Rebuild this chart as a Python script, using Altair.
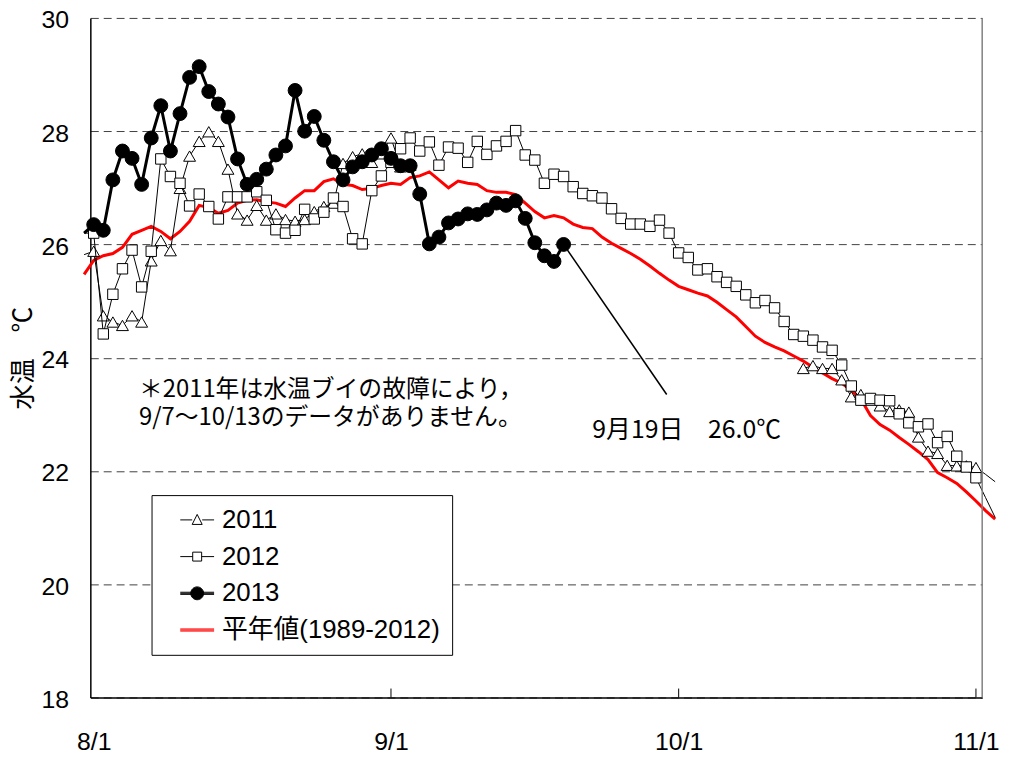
import altair as alt
import pandas as pd

# ---------------- data ----------------
NAMES = ["2011", "2012", "2013", "平年値(1989-2012)"]

# day index: 0 = 8/1
t2011a_start = -1
t2011a = [25.82, 25.88, 24.74, 24.63, 24.57, 24.74, 24.63, 25.71, 26.07, 25.89,
          26.99, 27.56, 27.82, 27.99, 27.82, 27.33, 26.54, 26.43, 26.69, 26.43,
          26.54, 26.44, 26.41, 26.44, 26.58, 26.67, 26.73, 27.43, 27.55, 27.60,
          27.45, 27.60, 27.88, 27.37, 27.40]
t2011b_start = 74
t2011b = [23.81, 23.86, 23.81, 23.81, 23.61, 23.31, 23.35, 23.25, 23.15, 23.05,
          23.08, 23.04, 22.60, 22.35, 22.31, 22.10, 22.09, 22.09, 22.06, 21.94, 21.81]

t2012_start = -1
t2012 = [26.20, 26.20, 24.42, 25.12, 25.57, 25.90, 25.25, 25.88, 27.51, 27.20,
         27.08, 26.68, 26.89, 26.67, 26.45, 26.84, 26.84, 26.84, 26.93, 26.78,
         26.26, 26.20, 26.25, 26.62, 26.45, 26.57, 26.82, 26.67, 26.10, 26.01,
         26.95, 27.21, 27.45, 27.69, 27.88, 27.65, 27.81, 27.40, 27.72, 27.70,
         27.45, 27.82, 27.59, 27.74, 27.82, 28.01, 27.58, 27.49, 27.08, 27.24,
         27.20, 27.02, 26.90, 26.86, 26.82, 26.63, 26.46, 26.36, 26.36, 26.32,
         26.43, 26.20, 25.85, 25.77, 25.55, 25.57, 25.43, 25.33, 25.26, 25.11,
         24.97, 25.01, 24.88, 24.64, 24.41, 24.38, 24.31, 24.19, 24.13, 23.87,
         23.50, 23.25, 23.28, 23.25, 23.24, 23.01, 22.85, 22.78, 22.83, 22.50,
         22.61, 22.26, 22.07, 21.88, 21.53, 21.18]

t2013_start = -1
t2013 = [26.20, 26.35, 26.25, 27.14, 27.65, 27.52, 27.06, 27.88, 28.45, 27.65,
         28.31, 28.95, 29.14, 28.70, 28.48, 28.25, 27.51, 27.06, 27.15, 27.33,
         27.58, 27.74, 28.72, 28.00, 28.26, 27.84, 27.46, 27.14, 27.37, 27.46,
         27.58, 27.69, 27.52, 27.39, 27.39, 26.89, 26.01, 26.13, 26.38, 26.45,
         26.54, 26.53, 26.61, 26.73, 26.69, 26.77, 26.46, 26.03, 25.80, 25.70, 26.00]

normal_start = -1
normal = [25.47, 25.72, 25.80, 25.84, 25.95, 26.18, 26.25, 26.32, 26.23, 26.10,
          26.23, 26.41, 26.69, 26.65, 26.55, 26.60, 26.73, 26.78, 26.79, 26.75,
          26.73, 26.67, 26.82, 26.95, 26.95, 27.11, 27.16, 27.06, 27.04, 26.97,
          26.99, 27.04, 27.08, 27.06, 27.18, 27.21, 27.28, 27.14, 27.00, 27.12,
          27.08, 27.06, 26.95, 26.92, 26.92, 26.88, 26.73, 26.58, 26.47, 26.51,
          26.47, 26.36, 26.30, 26.28, 26.13, 26.02, 25.93, 25.84, 25.74, 25.62,
          25.49, 25.37, 25.26, 25.20, 25.14, 25.09, 24.98, 24.85, 24.72, 24.55,
          24.38, 24.27, 24.19, 24.12, 24.03, 23.94, 23.83, 23.73, 23.63, 23.55,
          23.42, 23.27, 22.98, 22.82, 22.72, 22.59, 22.47, 22.34, 22.20, 21.97,
          21.88, 21.78, 21.63, 21.47, 21.30, 21.15]

TICK_DAYS = [0, 31, 61, 92]
TICK_LABELS = ["8/1", "9/1", "10/1", "11/1"]
Y_TICKS = [18, 20, 22, 24, 26, 28, 30]

NOTE_LINES = ["＊2011年は水温ブイの故障により，", "9/7〜10/13のデータがありません。"]
CALLOUT_TEXT = "9月19日　26.0℃"

# ---------------- layout constants ----------------
XMIN, XMAX = -0.35, 92.65
YMIN, YMAX = 18, 30
W, H = 899, 685
FONT = "'Liberation Sans', 'Noto Sans CJK JP', sans-serif"
CJK = "'Noto Sans CJK JP', sans-serif"


def seg(name, start, vals, segid):
    return pd.DataFrame({"series": name,
                         "day": list(range(start, start + len(vals))),
                         "temp": vals, "seg": segid})


df = pd.concat([
    seg(NAMES[0], t2011a_start, t2011a, "a"),
    seg(NAMES[0], t2011b_start, t2011b, "b"),
    seg(NAMES[1], t2012_start, t2012, "a"),
    seg(NAMES[2], t2013_start, t2013, "a"),
    seg(NAMES[3], normal_start, normal, "a"),
], ignore_index=True)
df["shown"] = (df["day"] >= 0) & (df["day"] <= 92)

label_expr = " : ".join(
    f"datum.value == {d} ? '{t}'" for d, t in zip(TICK_DAYS, TICK_LABELS)) + " : ''"

xscale = alt.Scale(domain=[XMIN, XMAX], nice=False, zero=False)
xaxis = alt.Axis(values=TICK_DAYS, labelExpr=label_expr, ticks=False,
                 grid=False, domainColor="black", domainWidth=1.5,
                 labelFont=FONT, labelFontSize=25, labelColor="black",
                 labelPadding=32, labelFlush=False, title=None)
yscale = alt.Scale(domain=[YMIN, YMAX], nice=False, zero=False)
yaxis = alt.Axis(values=Y_TICKS, ticks=False, grid=True, gridDash=[8, 5],
                 gridColor="#404040", gridWidth=1, domainColor="black",
                 domainWidth=1.5, labelFont=FONT, labelFontSize=25,
                 labelColor="black", labelPadding=22, labelOffset=2,
                 title="水温　℃", titleFont=CJK, titleFontSize=26,
                 titleFontWeight="normal", titleColor="black", titlePadding=4)

xenc = alt.X("day:Q", scale=xscale, axis=xaxis)
yenc = alt.Y("temp:Q", scale=yscale, axis=yaxis)


def xd(v):
    return alt.XDatum(v, type="quantitative", scale=xscale, axis=xaxis)


def yd(v):
    return alt.YDatum(v, type="quantitative", scale=yscale, axis=yaxis)


base = alt.Chart(df).encode(x=xenc, y=yenc)


def only(name):
    return alt.datum.series == name


red = base.transform_filter(only(NAMES[3])).mark_line(color="#ff0000", strokeWidth=3)

l2011 = base.transform_filter(only(NAMES[0])).mark_line(
    color="black", strokeWidth=1).encode(detail="seg:N")
p2011 = base.transform_filter(only(NAMES[0])).transform_filter(alt.datum.shown).mark_point(
    shape="triangle-up", size=144, filled=True, fill="white", stroke="black",
    strokeWidth=1, opacity=1)

l2012 = base.transform_filter(only(NAMES[1])).mark_line(color="black", strokeWidth=1)
p2012 = base.transform_filter(only(NAMES[1])).transform_filter(alt.datum.shown).mark_point(
    shape="square", size=110, filled=True, fill="white", stroke="black",
    strokeWidth=1, opacity=1)

l2013 = base.transform_filter(only(NAMES[2])).mark_line(color="black", strokeWidth=3)
p2013 = base.transform_filter(only(NAMES[2])).transform_filter(alt.datum.shown).mark_point(
    shape="circle", size=196, filled=True, fill="black", stroke="black",
    strokeWidth=1, opacity=1)

one = pd.DataFrame({"k": [0]})

# right frame line of the plot area
frame = alt.Chart(one).mark_rule(color="#808080", strokeWidth=1.5).encode(
    x=xd(XMAX), y=yd(YMIN), y2=alt.Y2Datum(YMAX))

# inward month ticks on the bottom axis
tick_df = pd.DataFrame({"day": TICK_DAYS[1:]})
TICK_LEN = 9 / (H / (YMAX - YMIN))
ticks = alt.Chart(tick_df).mark_rule(color="black", strokeWidth=1).encode(
    x=xenc, y=yd(YMIN), y2=alt.Y2Datum(YMIN + TICK_LEN))

# annotations
note = alt.Chart(one).mark_text(
    text=NOTE_LINES, align="left", baseline="middle", font=CJK, fontSize=24,
    lineHeight=28, color="black").encode(x=xd(4.72), y=yd(23.42))

last_day = t2013_start + len(t2013) - 1
callout_line = alt.Chart(one).mark_rule(color="black", strokeWidth=1.5).encode(
    x=xd(last_day), y=yd(t2013[-1]),
    x2=alt.X2Datum(59.75), y2=alt.Y2Datum(23.35))
callout_text = alt.Chart(one).mark_text(
    text=CALLOUT_TEXT, align="left", baseline="middle", font=CJK, fontSize=25,
    color="black").encode(x=xd(52.0), y=yd(22.73))

# legend (symbols are "line + marker" paths)
PATHS = [
    "M-1.42,0H-0.42M0.42,0H1.42M0,-0.46L0.42,0.38L-0.42,0.38Z",
    "M-1.42,0H-0.375M0.375,0H1.42M-0.375,-0.375H0.375V0.375H-0.375Z",
    "M-1.42,-0.09H1.42M-1.42,0H1.42M-1.42,0.09H1.42"
    "M0.54,0A0.54,0.54,0,1,1,-0.54,0A0.54,0.54,0,1,1,0.54,0Z",
    "M-1.42,-0.09H1.42M-1.42,0H1.42M-1.42,0.09H1.42",
]
FILLS = ["white", "white", "black", "transparent"]
STROKES = ["black", "black", "black", "#ff0000"]
leg = alt.Legend(orient="none", legendX=61.7, legendY=481, title=None,
                 strokeColor="black", fillColor="white", padding=12,
                 symbolSize=576, rowPadding=11, labelFont=FONT, labelFontSize=26,
                 labelColor="black", symbolOffset=21, labelOffset=12,
                 symbolStrokeWidth=1, labelLimit=400)
legend_layer = alt.Chart(pd.DataFrame({"series": NAMES})).transform_filter("false").mark_point(
    opacity=1, strokeWidth=1).encode(
    shape=alt.Shape("series:N", scale=alt.Scale(domain=NAMES, range=PATHS), legend=leg),
    fill=alt.Fill("series:N", scale=alt.Scale(domain=NAMES, range=FILLS), legend=leg),
    stroke=alt.Stroke("series:N", scale=alt.Scale(domain=NAMES, range=STROKES), legend=leg),
)

chart = alt.layer(
    red, l2011, p2011, l2012, p2012, l2013, p2013,
    frame, ticks, callout_line, callout_text, note, legend_layer
).properties(
    width=W, height=H,
    autosize=alt.AutoSizeParams(type="none"),
    padding={"left": 83, "top": 7, "right": 23, "bottom": 58},
    background="white",
).configure_view(stroke=None)

chart.save("out.html", embed_options={"renderer": "svg", "actions": False})
